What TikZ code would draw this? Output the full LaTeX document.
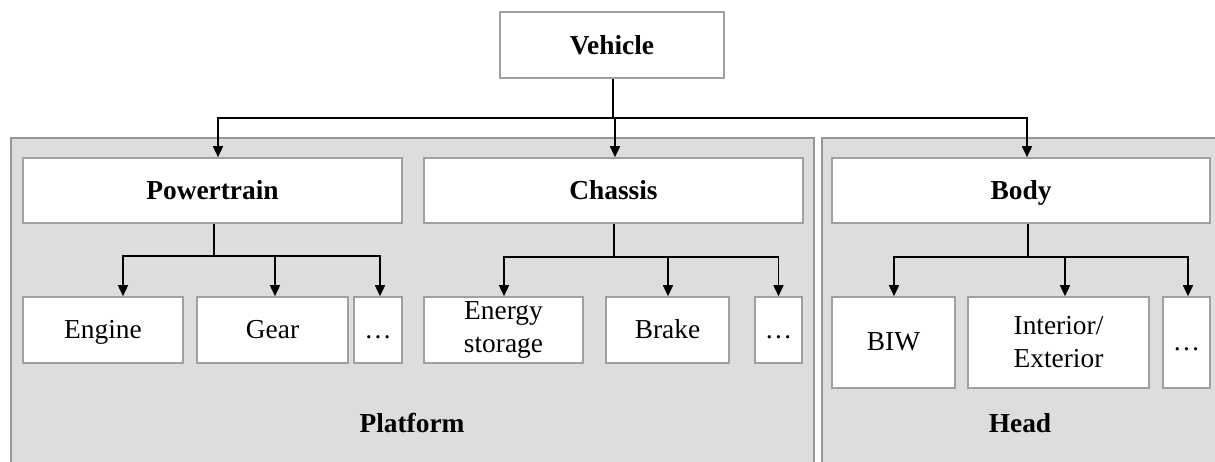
\documentclass[tikz,border=0pt]{standalone}
\usepackage{fontspec}
\setmainfont{Liberation Serif}
\usetikzlibrary{arrows.meta}
\definecolor{panelfill}{HTML}{DCDDDF}
\definecolor{panelline}{HTML}{979797}
\definecolor{boxline}{HTML}{A0A0A0}
\tikzset{
  panel/.style={draw=panelline, line width=1pt, fill=panelfill},
  unit/.style={draw=boxline, line width=0.8pt, fill=white, inner sep=0pt,
    align=center, font=\fontsize{13.7}{16.5}\selectfont},
  group/.style={unit, minimum height=32.5pt, text height=9.4pt, text depth=0pt,
    font=\fontsize{13.7}{16.5}\selectfont\bfseries},
  part/.style={unit, minimum height=33pt},
  tallpart/.style={unit, minimum height=45.5pt},
  oneline/.style={text height=9pt, text depth=1pt},
  caption/.style={font=\fontsize{13.7}{16.5}\selectfont\bfseries},
  conn/.style={draw=black, line width=0.75pt},
  arr/.style={conn, -{Triangle[length=5.5pt,width=5pt]}}
}
\begin{document}
\begin{tikzpicture}[x=0.5pt, y=-0.5pt]
  \useasboundingbox (0,0) rectangle (1215,461);
  \clip (0,0) rectangle (1215,461);

  % background panels
  \draw[panel] (11,138) rectangle (814,480);
  \draw[panel] (822,138) rectangle (1230,480);
  \node[caption] (platform) at (412,423) {Platform};
  \node[caption] (head) at (1020,423) {Head};

  % top level
  \node[group, minimum width=112pt, minimum height=33pt] (veh) at (612,45) {Vehicle};

  % module level
  \node[group, minimum width=189.5pt] (pt) at (212.5,190.5) {Powertrain};
  \node[group, minimum width=189.5pt] (ch) at (613.5,190.5) {Chassis};
  \node[group, minimum width=189pt]   (bd) at (1021,190.5) {Body};

  % component level
  \node[part, oneline, minimum width=80pt]   (engine) at (103,330)   {Engine};
  \node[part, oneline, minimum width=75.5pt] (gear)   at (272.5,330) {Gear};
  \node[part, oneline, minimum width=24pt]   (dotsA)  at (378,330)   {\dots};
  \node[part, minimum width=79.5pt]          (energy) at (503.5,330) {Energy\\storage};
  \node[part, oneline, minimum width=61.5pt] (brake)  at (667.5,330) {Brake};
  \node[part, oneline, minimum width=23.5pt] (dotsB)  at (778.5,330) {\dots};
  \node[tallpart, oneline, minimum width=61.5pt] (biw)   at (893.5,342.5)  {BIW};
  \node[tallpart, minimum width=90.5pt]          (inter) at (1058.5,342.5) {Interior/\\Exterior};
  \node[tallpart, oneline, minimum width=23.5pt] (dotsC) at (1186.5,342.5) {\dots};

  % vehicle to modules
  \coordinate (vbus) at (613,118);
  \draw[conn] (veh.south -| vbus) -- (vbus);
  \draw[arr] (vbus) -| ([xshift=2.75pt]pt.north);
  \draw[arr] (vbus) -| ([xshift=0.75pt]ch.north);
  \draw[arr] (vbus) -| ([xshift=3pt]bd.north);

  % powertrain components
  \coordinate (pbus) at (214,256);
  \draw[conn] (pt.south -| pbus) -- (pbus);
  \draw[arr] (pbus) -| ([xshift=10pt]engine.north);
  \draw[arr] (pbus) -| ([xshift=1.25pt]gear.north);
  \draw[arr] (pbus) -| ([xshift=1pt]dotsA.north);

  % chassis components
  \coordinate (cbus) at (614,257);
  \draw[conn] (ch.south -| cbus) -- (cbus);
  \draw[arr] (cbus) -| ([xshift=0.25pt]energy.north);
  \draw[arr] (cbus) -| ([xshift=0.25pt]brake.north);
  \draw[arr] (cbus) -| (dotsB.north);

  % body components
  \coordinate (bbus) at (1028,257);
  \draw[conn] (bd.south -| bbus) -- (bbus);
  \draw[arr] (bbus) -| ([xshift=0.25pt]biw.north);
  \draw[arr] (bbus) -| ([xshift=3.25pt]inter.north);
  \draw[arr] (bbus) -| ([xshift=0.75pt]dotsC.north);
\end{tikzpicture}
\end{document}
